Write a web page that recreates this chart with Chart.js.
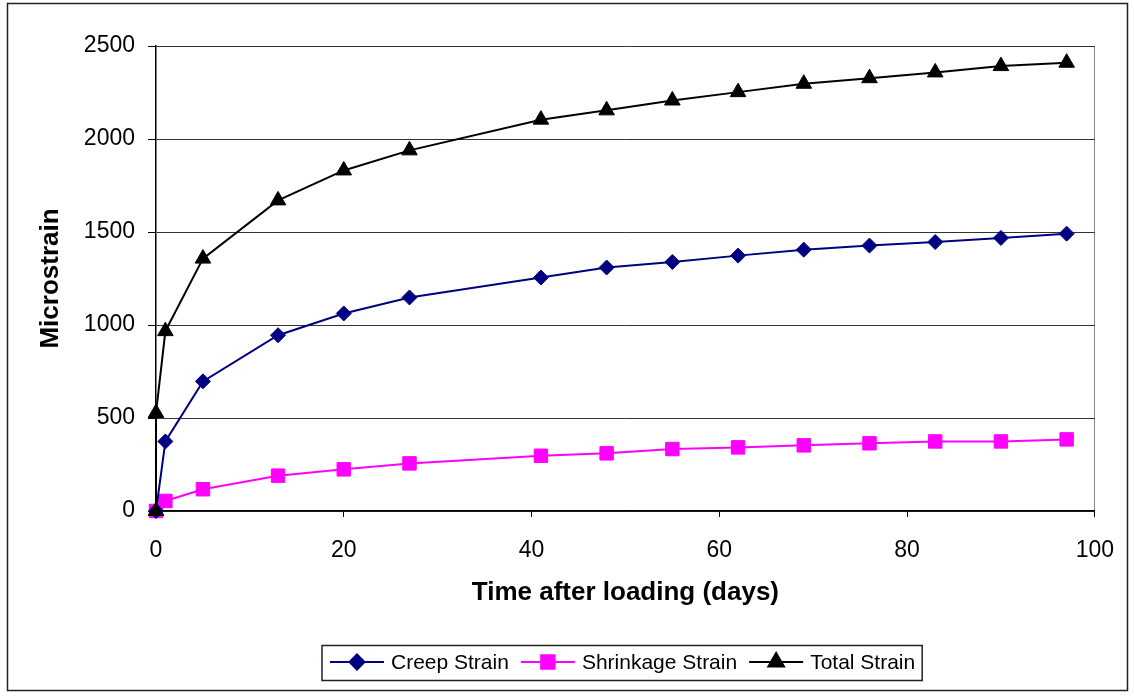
<!DOCTYPE html>
<html>
<head>
<meta charset="utf-8">
<title>Strain vs time</title>
<script src="https://cdn.jsdelivr.net/npm/chart.js@4.4.1/dist/chart.umd.min.js"></script>
<style>
  html, body { margin: 0; padding: 0; background: #fff; }
  #wrap { width: 1134px; height: 696px; }
</style>
</head>
<body>
<div id="wrap"><canvas id="strainChart" width="1134" height="696"></canvas></div>
<script>
// measured strains (microstrain) against days after loading
const creepDays = [0, 1, 5, 13, 20, 27, 41, 48, 55, 62, 69, 76, 83, 90, 97];
const creepStrain = [0, 374, 697, 945, 1062, 1148, 1255, 1309, 1339, 1373, 1405, 1427, 1446, 1468, 1491];
const shrinkageStrain = [0, 54, 117, 190, 224, 256, 297, 310, 333, 342, 353, 364, 374, 374, 385];
// total strain jumps at day 0 (elastic part) before creeping
const totalDays = [0, 0, 1, 5, 13, 20, 27, 41, 48, 55, 62, 69, 76, 83, 90, 97];
const totalStrain = [0, 527, 967, 1357, 1670, 1831, 1939, 2104, 2154, 2207, 2252, 2297, 2327, 2358, 2392, 2410];

const seriesLabels = ['Creep Strain', 'Shrinkage Strain', 'Total Strain'];
const xTicks = [0, 20, 40, 60, 80, 100];
const yTicks = [0, 500, 1000, 1500, 2000, 2500];

const FONT = "'Liberation Sans', Arial, sans-serif";

const toPoints = (xs, ys) => xs.map((x, i) => ({ x: x, y: ys[i] }));

// box around the legend and the whole chart, legend drawn by hand
const frameAndLegend = {
  id: 'frameAndLegend',
  afterDraw(chart) {
    const ctx = chart.ctx;
    ctx.save();
    ctx.strokeStyle = '#222';
    ctx.lineWidth = 1.5;
    ctx.strokeRect(7.5, 3.5, 1120, 687);

    ctx.font = '21px ' + FONT;
    const lineLen = 54, gap = 7, itemGap = 12;
    let x = 330;
    const cy = 662;
    const startX = x;
    chart.data.datasets.forEach((ds, i) => {
      const w = ctx.measureText(ds.label).width;
      ctx.strokeStyle = ds.borderColor;
      ctx.lineWidth = 2;
      ctx.beginPath();
      ctx.moveTo(x, cy);
      ctx.lineTo(x + lineLen, cy);
      ctx.stroke();
      ctx.fillStyle = ds.pointBackgroundColor;
      ctx.strokeStyle = ds.pointBorderColor;
      Chart.helpers.drawPoint(ctx, {
        pointStyle: ds.pointStyle,
        radius: ds.pointRadius,
        rotation: 0,
        borderWidth: 1
      }, x + lineLen / 2, cy);
      ctx.fillStyle = '#000';
      ctx.textAlign = 'left';
      ctx.textBaseline = 'middle';
      ctx.fillText(ds.label, x + lineLen + gap, cy + 1);
      x += lineLen + gap + w + (i < chart.data.datasets.length - 1 ? itemGap : 0);
    });
    ctx.strokeStyle = '#222';
    ctx.lineWidth = 1.5;
    ctx.strokeRect(startX - 8, 645.5, x - startX + 15, 35);
    ctx.restore();
  }
};

new Chart(document.getElementById('strainChart').getContext('2d'), {
  type: 'scatter',
  data: {
    datasets: [
      {
        label: seriesLabels[0],
        data: toPoints(creepDays, creepStrain),
        showLine: true,
        borderColor: '#000080',
        borderWidth: 2,
        pointStyle: 'rectRot',
        pointRadius: 7.5,
        pointBackgroundColor: '#000080',
        pointBorderColor: '#000080',
        pointBorderWidth: 1,
        clip: false,
        order: 1
      },
      {
        label: seriesLabels[1],
        data: toPoints(creepDays, shrinkageStrain),
        showLine: true,
        borderColor: '#FF00FF',
        borderWidth: 2,
        pointStyle: 'rect',
        pointRadius: 9.5,
        pointBackgroundColor: '#FF00FF',
        pointBorderColor: '#FF00FF',
        pointBorderWidth: 1,
        clip: false,
        order: 2
      },
      {
        label: seriesLabels[2],
        data: toPoints(totalDays, totalStrain),
        showLine: true,
        borderColor: '#000000',
        borderWidth: 2,
        pointStyle: 'triangle',
        pointRadius: 9,
        pointBackgroundColor: '#000000',
        pointBorderColor: '#000000',
        pointBorderWidth: 1,
        clip: false,
        order: 0
      }
    ]
  },
  options: {
    responsive: false,
    animation: false,
    devicePixelRatio: 1,
    layout: { padding: { left: 8, right: 38, top: 46, bottom: 75 } },
    plugins: {
      legend: { display: false },
      tooltip: { enabled: false }
    },
    scales: {
      x: {
        type: 'linear',
        min: 0,
        max: 100,
        afterFit: (scale) => { scale.height = 110; },
        afterBuildTicks: (scale) => { scale.ticks = xTicks.map(v => ({ value: v })); },
        ticks: {
          color: '#000',
          padding: 20,
          font: { family: FONT, size: 23 },
          maxRotation: 0,
          callback: (v) => String(v)
        },
        grid: {
          drawOnChartArea: true,
          color: (c) => (c.tick && c.tick.value === 100 ? '#888' : 'rgba(0,0,0,0)'),
          tickColor: '#000',
          tickLength: 6,
          lineWidth: 1
        },
        border: { display: true, color: '#000', width: 1.5 },
        title: {
          display: true,
          text: 'Time after loading (days)',
          color: '#000',
          font: { family: FONT, size: 26, weight: 'bold' },
          padding: { top: 0, bottom: 13 }
        }
      },
      y: {
        min: 0,
        max: 2500,
        afterFit: (scale) => { scale.width = 148; },
        afterBuildTicks: (scale) => { scale.ticks = yTicks.map(v => ({ value: v })); },
        ticks: {
          color: '#000',
          padding: 13,
          font: { family: FONT, size: 23 },
          callback: (v) => String(v)
        },
        grid: {
          color: '#333',
          tickColor: '#000',
          tickLength: 8,
          lineWidth: 1
        },
        border: { display: true, color: '#000', width: 1.5 },
        title: {
          display: true,
          text: 'Microstrain',
          color: '#000',
          font: { family: FONT, size: 26, weight: 'bold' },
          padding: { top: 27, bottom: 0 }
        }
      }
    }
  },
  plugins: [frameAndLegend]
});
</script>
</body>
</html>
